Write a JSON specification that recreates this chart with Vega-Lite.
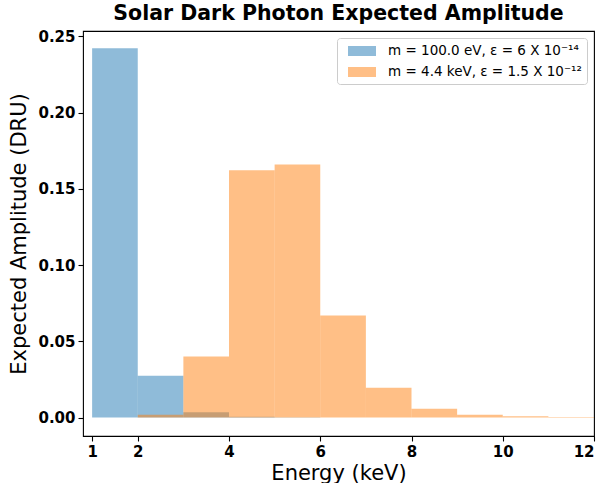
{
  "$schema": "https://vega.github.io/schema/vega-lite/v6.json",
  "autosize": "none",
  "width": 511,
  "height": 405,
  "padding": {"left": 83, "top": 31, "right": 11, "bottom": 47},
  "title": {"text": "Solar Dark Photon Expected Amplitude", "font": "DejaVu Sans", "fontSize": 20.5, "fontWeight": "bold", "color": "black", "offset": 5},
  "config": {
    "view": {"stroke": "black", "strokeWidth": 1.1},
    "axis": {"domain": false, "grid": false, "tickColor": "black", "tickSize": 5, "tickWidth": 1.1, "labelFont": "DejaVu Sans", "labelFontSize": 15, "labelFontWeight": "bold", "labelColor": "black", "titleFont": "DejaVu Sans", "titleFontSize": 21, "titleFontWeight": "normal", "titleColor": "black"}
  },
  "data": {"values": [
    {"series": "m = 100.0 eV, ε = 6 X 10⁻¹⁴", "x0": 1, "x1": 2, "v": 0.2423},
    {"series": "m = 100.0 eV, ε = 6 X 10⁻¹⁴", "x0": 2, "x1": 3, "v": 0.0274},
    {"series": "m = 100.0 eV, ε = 6 X 10⁻¹⁴", "x0": 3, "x1": 4, "v": 0.0035},
    {"series": "m = 100.0 eV, ε = 6 X 10⁻¹⁴", "x0": 4, "x1": 5, "v": 0.0005},
    {"series": "m = 100.0 eV, ε = 6 X 10⁻¹⁴", "x0": 5, "x1": 6, "v": 0.0002},
    {"series": "m = 100.0 eV, ε = 6 X 10⁻¹⁴", "x0": 6, "x1": 7, "v": 0.00005},
    {"series": "m = 4.4 keV, ε = 1.5 X 10⁻¹²", "x0": 2, "x1": 3, "v": 0.0018},
    {"series": "m = 4.4 keV, ε = 1.5 X 10⁻¹²", "x0": 3, "x1": 4, "v": 0.0400},
    {"series": "m = 4.4 keV, ε = 1.5 X 10⁻¹²", "x0": 4, "x1": 5, "v": 0.1623},
    {"series": "m = 4.4 keV, ε = 1.5 X 10⁻¹²", "x0": 5, "x1": 6, "v": 0.1660},
    {"series": "m = 4.4 keV, ε = 1.5 X 10⁻¹²", "x0": 6, "x1": 7, "v": 0.0669},
    {"series": "m = 4.4 keV, ε = 1.5 X 10⁻¹²", "x0": 7, "x1": 8, "v": 0.0195},
    {"series": "m = 4.4 keV, ε = 1.5 X 10⁻¹²", "x0": 8, "x1": 9, "v": 0.0057},
    {"series": "m = 4.4 keV, ε = 1.5 X 10⁻¹²", "x0": 9, "x1": 10, "v": 0.0018},
    {"series": "m = 4.4 keV, ε = 1.5 X 10⁻¹²", "x0": 10, "x1": 11, "v": 0.0009},
    {"series": "m = 4.4 keV, ε = 1.5 X 10⁻¹²", "x0": 11, "x1": 12, "v": 0.0003}
  ]},
  "mark": {"type": "bar", "opacity": 0.5, "clip": true},
  "encoding": {
    "x": {"field": "x0", "type": "quantitative", "scale": {"domain": [0.8, 12], "nice": false, "zero": false}, "axis": {"values": [1, 2, 4, 6, 8, 10, 12], "title": "Energy (keV)", "titlePadding": 3, "labelPadding": 3}},
    "x2": {"field": "x1"},
    "y": {"field": "v", "type": "quantitative", "scale": {"domain": [-0.0121, 0.2536], "nice": false, "zero": false}, "axis": {"values": [0, 0.05, 0.1, 0.15, 0.2, 0.25], "format": ".2f", "title": "Expected Amplitude (DRU)", "titlePadding": 8, "labelPadding": 3}},
    "y2": {"datum": 0},
    "color": {"field": "series", "type": "nominal", "sort": null, "scale": {"range": ["#1f77b4", "#ff7f0e"]}, "legend": {"title": null, "orient": "top-right", "offset": 7, "labelFont": "DejaVu Sans", "labelFontSize": 13.5, "labelColor": "black", "labelLimit": 0, "symbolType": "M-1.75,-0.625H1.75V0.625H-1.75Z", "symbolSize": 256, "symbolOffset": 12, "symbolOpacity": 0.5, "symbolStrokeWidth": 0, "strokeColor": "#cccccc", "fillColor": "white", "cornerRadius": 3, "padding": 5, "rowPadding": 6, "labelOffset": 18}},
    "order": {"field": "series", "sort": "ascending"}
  }
}
